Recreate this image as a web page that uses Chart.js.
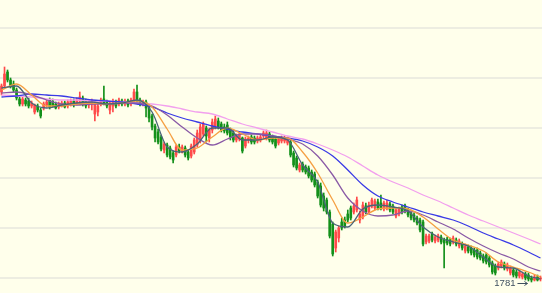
<!DOCTYPE html>
<html>
<head>
<meta charset="utf-8">
<title>K-line</title>
<style>
  html, body { margin: 0; padding: 0; background: #ffffeb; }
  #wrap { width: 542px; height: 293px; }
</style>
<script src="https://cdn.jsdelivr.net/npm/chart.js"></script>
</head>
<body>
<div id="wrap"><canvas id="kline" width="542" height="293"></canvas></div>
<script>
// daily candles, oldest first
const openP = [
  1971,1977,1991,1983,1979,1973,1964,1959,1963,1962,
  1957,1951,1957,1953,1955,1958,1963,1962,1959,1956,
  1957,1960,1957,1959,1962,1960,1962,1965,1962,1958,
  1959,1949,1951,1960,1964,1961,1953,1957,1961,1959,
  1962,1959,1962,1959,1963,1971,1963,1959,1961,1955,
  1947,1937,1931,1926,1913,1918,1915,1910,1908,1916,
  1912,1915,1911,1907,1911,1918,1923,1929,1935,1925,
  1933,1937,1942,1939,1936,1938,1933,1930,1923,1924,
  1925,1917,1923,1926,1925,1922,1923,1927,1925,1929,
  1926,1924,1920,1922,1922,1920,1921,1910,1905,1893,
  1899,1896,1895,1891,1889,1881,1877,1867,1863,1851,
  1839,1815,1825,1841,1843,1849,1855,1851,1853,1843,
  1846,1857,1851,1857,1855,1861,1860,1854,1855,1859,
  1857,1847,1849,1856,1857,1853,1850,1848,1845,1843,
  1841,1821,1822,1829,1822,1823,1826,1823,1824,1823,
  1821,1823,1817,1819,1812,1816,1815,1813,1813,1810,
  1807,1808,1805,1800,1797,1795,1797,1799,1794,1790,
  1793,1791,1787,1786,1789,1788,1785,1783,1786,1784
];
const highP = [
  1979,1996,1993,1985,1982,1975,1967,1966,1965,1965,
  1962,1959,1959,1955,1961,1963,1965,1964,1961,1961,
  1962,1962,1963,1964,1964,1965,1971,1967,1964,1963,
  1964,1961,1959,1965,1977,1963,1961,1964,1963,1965,
  1964,1964,1964,1965,1974,1978,1965,1963,1963,1957,
  1949,1939,1934,1928,1921,1920,1917,1912,1918,1919,
  1918,1917,1913,1919,1925,1933,1939,1941,1937,1935,
  1944,1947,1945,1941,1939,1941,1935,1932,1929,1930,
  1926,1926,1927,1928,1927,1927,1928,1932,1933,1931,
  1928,1926,1926,1927,1927,1926,1923,1912,1907,1900,
  1901,1898,1897,1893,1891,1883,1880,1870,1865,1853,
  1841,1833,1837,1845,1846,1853,1857,1860,1866,1852,
  1861,1860,1861,1865,1864,1864,1868,1862,1863,1861,
  1859,1855,1856,1858,1859,1855,1852,1850,1847,1845,
  1843,1829,1829,1831,1828,1829,1828,1825,1826,1825,
  1827,1825,1824,1821,1819,1818,1817,1815,1815,1812,
  1809,1810,1807,1802,1799,1801,1803,1801,1800,1797,
  1795,1793,1793,1791,1791,1790,1787,1788,1788,1787
];
const lowP = [
  1968,1975,1981,1975,1971,1963,1957,1957,1957,1955,
  1955,1949,1951,1945,1953,1956,1954,1956,1954,1954,
  1956,1955,1955,1957,1956,1958,1960,1957,1955,1955,
  1953,1942,1947,1957,1958,1955,1949,1951,1955,1957,
  1957,1957,1956,1957,1961,1961,1957,1957,1946,1941,
  1933,1921,1919,1912,1910,1906,1904,1900,1906,1910,
  1910,1906,1903,1905,1909,1916,1920,1927,1921,1921,
  1930,1934,1934,1931,1930,1928,1923,1921,1921,1922,
  1910,1915,1920,1919,1919,1920,1921,1925,1923,1921,
  1919,1915,1918,1920,1920,1918,1906,1896,1893,1891,
  1891,1889,1885,1881,1876,1865,1856,1852,1849,1825,
  1807,1811,1821,1833,1835,1841,1843,1849,1851,1840,
  1844,1849,1849,1855,1853,1853,1853,1852,1853,1851,
  1849,1845,1847,1849,1850,1846,1843,1841,1838,1831,
  1817,1819,1820,1821,1820,1821,1819,1795,1818,1817,
  1819,1817,1815,1813,1810,1810,1808,1806,1804,1803,
  1800,1799,1796,1789,1788,1793,1795,1793,1792,1788,
  1786,1785,1785,1784,1783,1782,1781,1782,1782,1782
];
const closeP = [
  1977,1989,1983,1977,1973,1965,1959,1964,1959,1957,
  1960,1958,1953,1947,1959,1961,1956,1957,1955,1959,
  1960,1956,1961,1962,1958,1963,1966,1959,1957,1961,
  1962,1959,1957,1963,1960,1957,1959,1962,1957,1963,
  1959,1962,1958,1963,1971,1963,1959,1961,1955,1945,
  1936,1925,1921,1914,1919,1908,1906,1903,1916,1912,
  1916,1908,1905,1917,1923,1930,1936,1939,1927,1933,
  1941,1944,1936,1933,1932,1930,1926,1923,1927,1928,
  1912,1924,1925,1921,1921,1925,1926,1930,1930,1923,
  1921,1917,1924,1925,1925,1924,1908,1898,1895,1898,
  1893,1891,1887,1883,1878,1867,1858,1855,1851,1827,
  1809,1831,1835,1835,1837,1843,1845,1857,1863,1849,
  1858,1851,1858,1863,1862,1855,1855,1860,1860,1853,
  1851,1853,1854,1851,1852,1848,1845,1843,1840,1833,
  1819,1827,1827,1823,1826,1827,1821,1820,1820,1819,
  1825,1819,1822,1815,1817,1812,1810,1808,1806,1805,
  1802,1801,1798,1791,1790,1799,1801,1795,1798,1795,
  1788,1787,1791,1789,1785,1784,1783,1786,1783,1785
];

// moving averages, read every 5th day
const maDay = [0,5,10,15,20,25,30,35,40,45,50,55,60,65,70,75,80,85,90,95,
  100,105,110,115,120,125,130,135,140,145,150,155,160,165,170,175,179];
const ma5 = [1975,1977,1960,1955,1958,1960,1961,1959,1960,1963,1951,1916,1911,1919,1935,1935,1923,1923,1926,1923,
  1898,1881,1840,1836,1854,1858,1856,1852,1836,1826,1821,1817,1806,1796,1795,1787,1784];
const ma10 = [1973,1979,1968,1957,1957,1959,1960,1959,1960,1962,1956,1934,1913,1915,1926,1935,1929,1923,1925,1925,
  1911,1890,1863,1840,1846,1854,1855,1854,1846,1834,1823,1818,1812,1801,1796,1791,1786];
const ma20 = [1970,1971,1968,1963,1959,1958,1959,1959,1960,1960,1957,1948,1936,1925,1918,1924,1929,1929,1927,1924,
  1919,1907,1888,1865,1852,1847,1848,1852,1848,1841,1834,1825,1817,1810,1804,1796,1792];
const ma60 = [1966,1967,1969,1968,1967,1965,1963,1962,1961,1959,1956,1950,1945,1941,1937,1934,1931,1929,1927,1925,
  1922,1916,1907,1893,1878,1867,1861,1856,1851,1847,1843,1837,1830,1824,1818,1811,1805];
const ma120 = [1968,1967,1966,1964,1963,1963,1962,1962,1961,1960,1959,1957,1954,1951,1949,1944,1939,1935,1931,1927,
  1924,1919,1913,1906,1897,1888,1881,1875,1868,1862,1855,1848,1842,1836,1830,1824,1819];

const gridLevels = [1785, 1835, 1885, 1935, 1985, 2035];

const UP = '#ff4a4a';
const DOWN = '#13901a';
const days = closeP.map((_, i) => i);
const candleColor = (ctx) =>
  closeP[ctx.dataIndex] >= openP[ctx.dataIndex] ? UP : DOWN;

function maLine(values, color) {
  return {
    type: 'line',
    data: values.map((v, k) => ({ x: maDay[k], y: v })),
    borderColor: color,
    borderWidth: 1.3,
    pointRadius: 0,
    cubicInterpolationMode: 'monotone',
    order: 0,
  };
}

// marks the lowest low with its value and a small arrow
const lowMark = {
  id: 'lowMark',
  afterDatasetsDraw(chart) {
    const { ctx, scales: { x, y } } = chart;
    let k = 0;
    lowP.forEach((v, i) => { if (v < lowP[k]) k = i; });
    const px = x.getPixelForValue(k);
    const py = Math.round(y.getPixelForValue(lowP[k])) + 1.5;
    ctx.save();
    ctx.fillStyle = '#3f5060';
    ctx.strokeStyle = '#3f5060';
    ctx.lineWidth = 1;
    ctx.font = '9.5px "Liberation Sans", Arial, sans-serif';
    ctx.textAlign = 'right';
    ctx.textBaseline = 'middle';
    ctx.fillText(String(lowP[k]), px - 16, py);
    ctx.beginPath();
    ctx.moveTo(px - 14, py);
    ctx.lineTo(px - 4, py);
    ctx.moveTo(px - 7, py - 2);
    ctx.lineTo(px - 4, py);
    ctx.lineTo(px - 7, py + 2);
    ctx.stroke();
    ctx.restore();
  }
};

new Chart(document.getElementById('kline'), {
  type: 'bar',
  data: {
    datasets: [
      maLine(ma5, '#4a6478'),
      maLine(ma10, '#f5a043'),
      maLine(ma20, '#8a5aa6'),
      maLine(ma60, '#3a3ae6'),
      maLine(ma120, '#f2a0ee'),
      {
        data: days.map(i => ({ x: i, y: [lowP[i], highP[i]] })),
        backgroundColor: candleColor,
        barThickness: 1,
        grouped: false,
        order: 2,
      },
      {
        data: days.map(i => ({ x: i, y: [openP[i], closeP[i]] })),
        backgroundColor: candleColor,
        barThickness: 2,
        grouped: false,
        order: 1,
      },
    ],
  },
  options: {
    responsive: false,
    animation: false,
    layout: { padding: 0 },
    plugins: { legend: { display: false }, tooltip: { enabled: false } },
    scales: {
      x: {
        type: 'linear',
        min: -0.5,
        max: days.length - 0.5,
        offset: false,
        display: false,
      },
      y: {
        min: 1770,
        max: 2063,
        afterBuildTicks: (scale) => {
          scale.ticks = gridLevels.map(v => ({ value: v }));
        },
        ticks: { display: false },
        border: { display: false },
        grid: { color: '#ededE1', lineWidth: 2, drawTicks: false },
      },
    },
  },
  plugins: [lowMark],
});
</script>
</body>
</html>
